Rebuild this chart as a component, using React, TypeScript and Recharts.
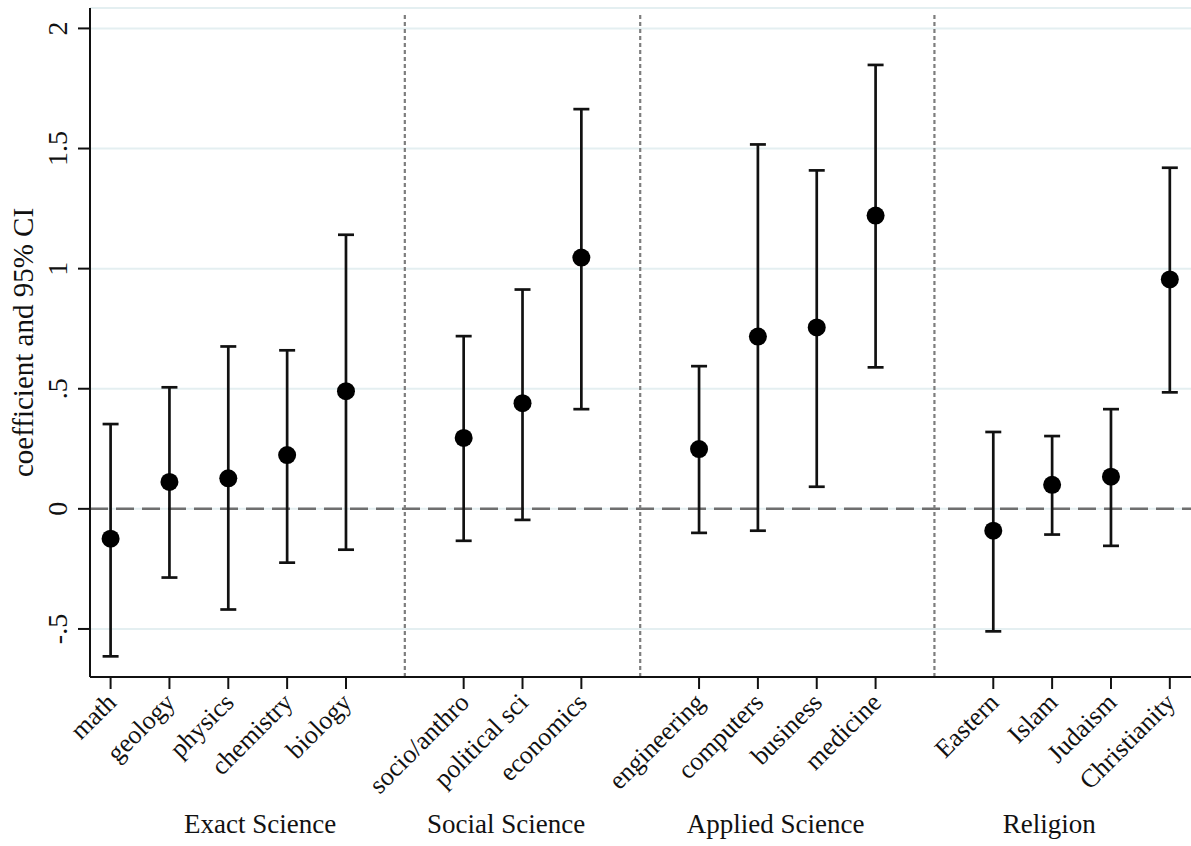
import React from "react";
import {
  ComposedChart,
  Scatter,
  ErrorBar,
  XAxis,
  YAxis,
  CartesianGrid,
  ReferenceLine,
  ReferenceDot,
} from "recharts";

// ---- data ----
const categories = [
  "math", "geology", "physics", "chemistry", "biology",
  "socio/anthro", "political sci", "economics",
  "engineering", "computers", "business", "medicine",
  "Eastern", "Islam", "Judaism", "Christianity",
];
const positions = [1, 2, 3, 4, 5, 7, 8, 9, 11, 12, 13, 14, 16, 17, 18, 19];
const estimates = [-0.124, 0.112, 0.127, 0.224, 0.49, 0.295, 0.44, 1.046, 0.249, 0.717, 0.755, 1.221, -0.091, 0.1, 0.134, 0.955];
const lowerCI = [-0.614, -0.286, -0.419, -0.224, -0.17, -0.133, -0.046, 0.415, -0.1, -0.091, 0.092, 0.589, -0.51, -0.107, -0.154, 0.485];
const upperCI = [0.353, 0.506, 0.676, 0.66, 1.141, 0.719, 0.913, 1.664, 0.594, 1.517, 1.409, 1.848, 0.32, 0.303, 0.415, 1.42];

const dividers = [6, 10, 15];
const groupLabels = ["Exact Science", "Social Science", "Applied Science", "Religion"];
const groupLabelAt = [3.54, 7.72, 12.3, 16.95];

const yTicks = [-0.5, 0, 0.5, 1, 1.5, 2];
const yTickLabels = ["-.5", "0", ".5", "1", "1.5", "2"];

const Y_MIN = -0.7;
const Y_MAX = 2.085;

const table = positions.map((p, i) => ({
  pos: p,
  name: categories[i],
  est: estimates[i],
  err: [estimates[i] - lowerCI[i], upperCI[i] - estimates[i]],
}));

const FONT = "'Liberation Serif', 'Times New Roman', serif";

const XTick = (props: any) => {
  const { x, y, payload } = props;
  const idx = positions.indexOf(payload.value);
  const label = idx >= 0 ? categories[idx] : "";
  const tx = x + 7;
  const ty = y + 15;
  return (
    <text
      x={tx}
      y={ty}
      textAnchor="end"
      transform={`rotate(-45, ${tx}, ${ty})`}
      fontFamily={FONT}
      fontSize={26}
      fill="#111"
    >
      {label}
    </text>
  );
};

const YTick = (props: any) => {
  const { x, y, payload } = props;
  const idx = yTicks.indexOf(payload.value);
  const label = idx >= 0 ? yTickLabels[idx] : "";
  const tx = x - 11;
  const ty = y;
  return (
    <text
      x={tx}
      y={ty}
      textAnchor="middle"
      transform={`rotate(-90, ${tx}, ${ty})`}
      fontFamily={FONT}
      fontSize={28}
      fill="#111"
    >
      {label}
    </text>
  );
};

const Dot = (props: any) => {
  const { cx, cy } = props;
  return <circle cx={cx} cy={cy} r={9} fill="#000" />;
};

export default function App() {
  return (
    <div style={{ position: "absolute", left: 0, top: 0, background: "#fff" }}>
      <ComposedChart
        width={1191}
        height={846}
        data={table}
        margin={{ top: 8, right: 0, bottom: 0, left: 0 }}
      >
        <CartesianGrid
          horizontal={true}
          vertical={false}
          stroke="#e4eff1"
          strokeWidth={2}
        />
        <XAxis
          type="number"
          dataKey="pos"
          domain={[0.65, 19.36]}
          ticks={positions}
          interval={0}
          height={169}
          tickSize={12}
          tickMargin={0}
          tick={<XTick />}
          axisLine={{ stroke: "#111", strokeWidth: 2 }}
          tickLine={{ stroke: "#111", strokeWidth: 2 }}
          allowDataOverflow
        />
        <YAxis
          type="number"
          domain={[Y_MIN, Y_MAX]}
          ticks={yTicks}
          interval={0}
          width={90}
          tickSize={12}
          tickMargin={0}
          tick={<YTick />}
          axisLine={{ stroke: "#111", strokeWidth: 2 }}
          tickLine={{ stroke: "#111", strokeWidth: 2 }}
          allowDataOverflow
          label={{
            content: () => (
              <text
                x={33}
                y={342.5}
                textAnchor="middle"
                transform="rotate(-90, 33, 342.5)"
                fontFamily={FONT}
                fontSize={29}
                fill="#111"
              >
                coefficient and 95% CI
              </text>
            ),
          }}
        />
        <ReferenceLine
          y={0}
          stroke="#6f6f6f"
          strokeWidth={2.5}
          strokeDasharray="18 8"
        />
        {dividers.map((d) => (
          <ReferenceLine
            key={d}
            segment={[
              { x: d, y: Y_MIN },
              { x: d, y: 2.06 },
            ]}
            stroke="#7d7d7d"
            strokeWidth={2.2}
            strokeDasharray="4 3"
          />
        ))}
        <Scatter
          dataKey="est"
          isAnimationActive={false}
          shape={<Dot />}
        >
          <ErrorBar
            dataKey="err"
            direction="y"
            width={8}
            strokeWidth={2.7}
            stroke="#111"
            isAnimationActive={false}
          />
        </Scatter>
        {groupLabels.map((g, i) => (
          <ReferenceDot
            key={g}
            x={groupLabelAt[i]}
            y={Y_MIN}
            ifOverflow="visible"
            shape={(p: any) => (
              <text
                x={p.cx}
                y={p.cy + 156}
                textAnchor="middle"
                fontFamily={FONT}
                fontSize={27}
                fill="#111"
              >
                {g}
              </text>
            )}
          />
        ))}
      </ComposedChart>
    </div>
  );
}
